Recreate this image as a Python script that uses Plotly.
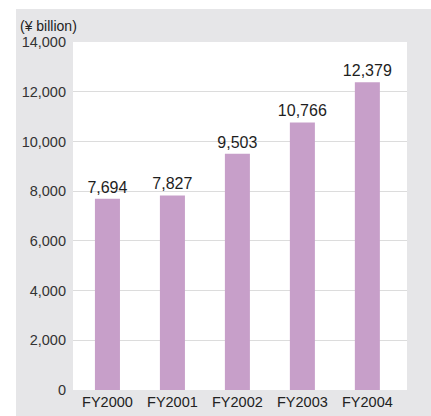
import plotly.graph_objects as go

categories = ["FY2000", "FY2001", "FY2002", "FY2003", "FY2004"]
values = [7694, 7827, 9503, 10766, 12379]
labels = ["7,694", "7,827", "9,503", "10,766", "12,379"]
ytick_vals = [0, 2000, 4000, 6000, 8000, 10000, 12000, 14000]
ytick_text = ["0", "2,000", "4,000", "6,000", "8,000", "10,000", "12,000", "14,000"]

W, H = 431, 416
L, R, T, B = 73, 24, 42, 26
pw, ph = W - L - R, H - T - B

fig = go.Figure(go.Bar(
    x=list(range(len(categories))), y=values,
    text=labels, textposition="outside", cliponaxis=False, constraintext="none",
    textfont=dict(family="Liberation Sans, Arial, sans-serif", size=16, color="#1e1e1e"),
    marker=dict(color="#c79fc9", line=dict(width=0)),
    width=0.385,
))

fig.update_layout(
    width=W, height=H, margin=dict(l=L, r=R, t=T, b=B),
    paper_bgcolor="#e6e6e8", plot_bgcolor="#ffffff",
    showlegend=False,
    uniformtext=dict(minsize=16, mode="show"),
    font=dict(family="Liberation Sans, Arial, sans-serif", color="#333"),
    xaxis=dict(range=[-0.53, 4.61], tickvals=list(range(len(categories))), ticktext=categories,
               showgrid=False, zeroline=False, showline=False, ticks="", automargin=False,
               tickfont=dict(size=14.5, color="#222"), ticklabelstandoff=1),
    yaxis=dict(range=[0, 14000], tickvals=ytick_vals, ticktext=ytick_text, automargin=False,
               showgrid=True, gridcolor="#dcdcdc", gridwidth=1, zeroline=False,
               showline=False, ticks="", tickfont=dict(size=14.5, color="#333"),
               ticklabelstandoff=6),
    shapes=[
        dict(type="rect", xref="paper", yref="paper", layer="above",
             x0=-L / pw - 0.01, x1=(16 - L) / pw, y0=-B / ph - 0.01, y1=1 + T / ph + 0.01,
             fillcolor="white", line=dict(width=0)),
        dict(type="rect", xref="paper", yref="paper", layer="above",
             x0=-L / pw - 0.01, x1=1 + R / pw + 0.01, y0=1 + (T - 9) / ph, y1=1 + T / ph + 0.01,
             fillcolor="white", line=dict(width=0)),
    ],
    annotations=[dict(text="(¥ billion)", xref="paper", yref="paper",
                      x=(18 - L) / pw, y=1 + (T - 26) / ph, xanchor="left", yanchor="middle",
                      showarrow=False, font=dict(size=14, color="#222"))],
)

fig.write_html("out.html")
